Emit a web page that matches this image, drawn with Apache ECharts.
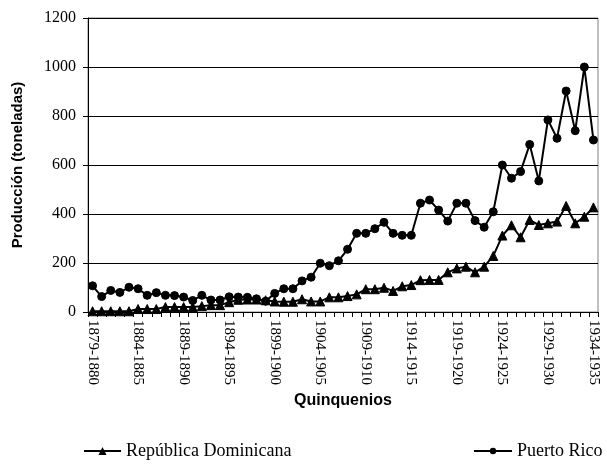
<!DOCTYPE html>
<html>
<head>
<meta charset="utf-8">
<script src="https://cdn.jsdelivr.net/npm/echarts@6/dist/echarts.min.js"></script>
<style>
html,body{margin:0;padding:0;background:#fff;}
#chart{width:607px;height:469px;}
</style>
</head>
<body>
<div id="chart"></div>
<script>
var startYears = [];
for (var y = 1879; y <= 1934; y++) startYears.push(y);
var categories = startYears.map(function (y) { return y + '-' + (y + 1); });

var republicaDominicana = [3, 3, 3, 3, 3, 12, 12, 12, 20, 20, 20, 20, 24, 28, 28, 40, 50, 51, 51, 48,
  43, 42, 42, 52, 43, 43, 60, 60, 65, 72, 93, 93, 99, 86, 105, 110, 130, 131, 131, 162,
  178, 185, 162, 185, 229, 312, 354, 305, 376, 355, 362, 369, 433, 362, 389, 427];

var puertoRico = [107, 63, 88, 80, 101, 95, 68, 79, 68, 67, 61, 47, 68, 49, 49, 62, 61, 60, 54, 44,
  76, 95, 95, 127, 142, 199, 189, 209, 256, 321, 321, 340, 366, 321, 313, 313, 444, 457, 416, 371,
  444, 444, 373, 346, 409, 600, 546, 573, 684, 535, 784, 709, 902, 740, 1000, 702];

var yTicks = [0, 200, 400, 600, 800, 1000, 1200];

var chart = echarts.init(document.getElementById('chart'), null, {renderer: 'canvas'});
var serif = 'Liberation Serif';
var sans = 'Liberation Sans';

chart.setOption({
  animation: false,
  backgroundColor: '#ffffff',
  grid: {left: 88, right: 9, top: 18, bottom: 157, show: true, borderColor: '#808080', borderWidth: 1},
  xAxis: {
    type: 'category',
    data: categories,
    boundaryGap: true,
    name: 'Quinquenios',
    nameLocation: 'middle',
    nameGap: 80,
    nameTextStyle: {fontFamily: sans, fontWeight: 'bold', fontSize: 16, color: '#000'},
    axisLine: {lineStyle: {color: '#000', width: 1}},
    axisTick: {show: true, interval: 0, length: 5, inside: false, lineStyle: {color: '#000'}},
    axisLabel: {interval: 4, rotate: -90, fontFamily: serif, fontSize: 15, color: '#000', margin: 8},
    splitLine: {show: false}
  },
  yAxis: {
    type: 'value',
    min: yTicks[0],
    max: yTicks[yTicks.length - 1],
    interval: 200,
    name: 'Producción (toneladas)',
    nameLocation: 'middle',
    nameGap: 63,
    nameRotate: 90,
    nameTextStyle: {fontFamily: sans, fontWeight: 'bold', fontSize: 15, color: '#000'},
    axisLine: {show: true, lineStyle: {color: '#000', width: 1}},
    axisTick: {show: true, length: 5, lineStyle: {color: '#000'}},
    axisLabel: {fontFamily: serif, fontSize: 16, color: '#000', margin: 12,
      formatter: function (v) { return String(v); }},
    splitLine: {show: true, lineStyle: {color: '#000', width: 1}}
  },
  legend: [
    {
      data: ['República Dominicana'],
      left: 78, top: 437,
      itemWidth: 37, itemHeight: 10, itemGap: 6,
      textStyle: {fontFamily: serif, fontSize: 18, color: '#000'}
    },
    {
      data: ['Puerto Rico'],
      left: 468, top: 437,
      itemWidth: 38, itemHeight: 8, itemGap: 6,
      textStyle: {fontFamily: serif, fontSize: 18, color: '#000'}
    }
  ],
  series: [
    {
      name: 'República Dominicana',
      type: 'line',
      data: republicaDominicana,
      symbol: 'triangle',
      symbolSize: 9,
      showAllSymbol: true,
      lineStyle: {color: '#000', width: 2},
      itemStyle: {color: '#000', borderColor: '#000'},
      z: 3
    },
    {
      name: 'Puerto Rico',
      type: 'line',
      data: puertoRico,
      symbol: 'circle',
      symbolSize: 8,
      showAllSymbol: true,
      lineStyle: {color: '#000', width: 2},
      itemStyle: {color: '#000', borderColor: '#000'},
      z: 2
    }
  ]
});
</script>
</body>
</html>
